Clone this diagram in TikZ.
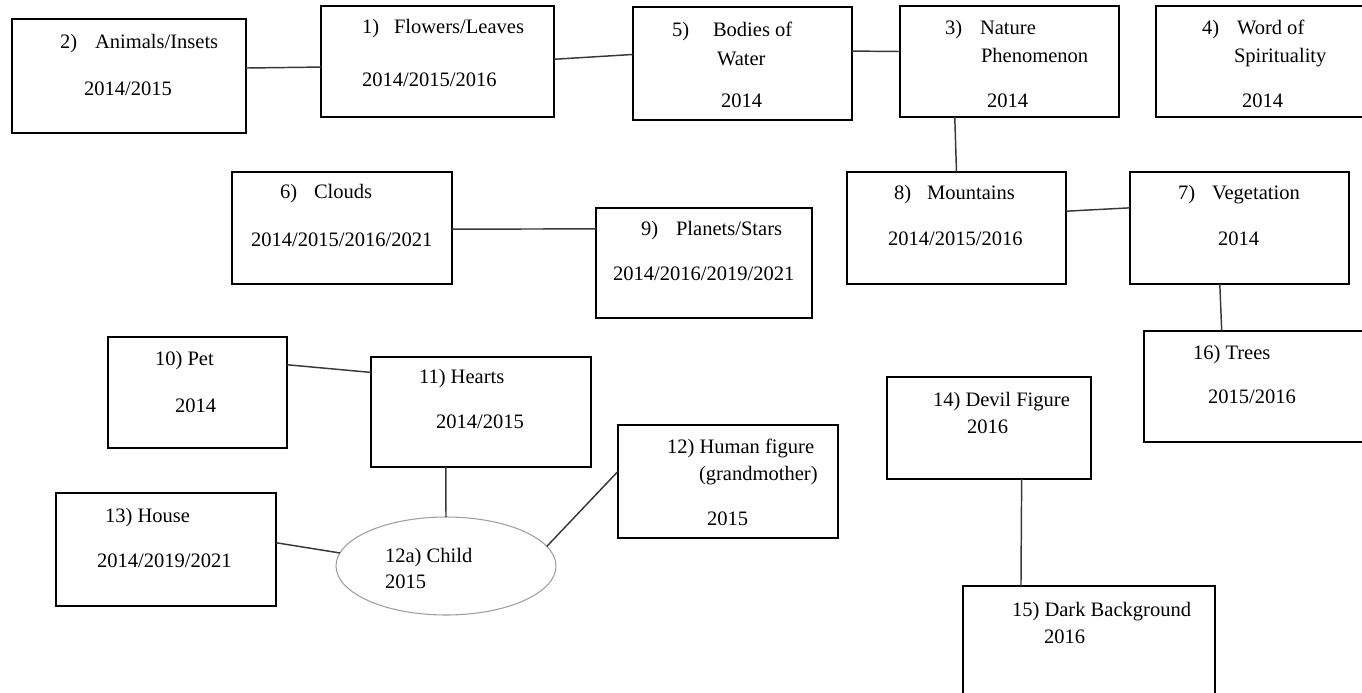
\documentclass[tikz,border=0pt]{standalone}
\usepackage{fontspec}
\setmainfont{Liberation Serif}
\usetikzlibrary{calc,shapes.geometric}
\begin{document}
\begin{tikzpicture}[x=0.75pt,y=-0.75pt,
  box/.style={draw=black, line width=1.1pt, rectangle, inner sep=0pt, outer sep=0pt, anchor=north west},
  oval/.style={draw=black!38, line width=0.8pt, ellipse, inner sep=0pt, outer sep=0pt},
  link/.style={draw=black!78, line width=1.1pt},
  txt/.style={anchor=base west, inner sep=0pt, outer sep=0pt, font=\fontsize{15.4}{18}\selectfont, text=black}]
\newcommand\mkbox[5]{\node[box, minimum width={(#4-#2)*0.75pt}, minimum height={(#5-#3)*0.75pt}] (#1) at (#2,#3) {};}
\useasboundingbox (0,0) rectangle (1362,692);

% boxes
\mkbox{b2}{12}{19}{246}{133}
\mkbox{b1}{321}{6}{554}{117}
\mkbox{b5}{633}{7}{852}{120}
\mkbox{b3}{900}{6}{1119}{117}
\mkbox{b4}{1156}{6}{1366}{117}
\mkbox{b6}{232}{172}{452}{284}
\mkbox{b9}{596}{208}{812}{318}
\mkbox{b8}{847}{172}{1066}{284}
\mkbox{b7}{1130}{172}{1349}{284}
\mkbox{b16}{1144}{331}{1366}{442}
\mkbox{b10}{108}{337}{287}{448}
\mkbox{b11}{371}{357}{591}{467}
\mkbox{b12}{618}{425}{838}{538}
\mkbox{b13}{56}{493}{276}{606}
\mkbox{b14}{887}{377}{1091}{479}
\mkbox{b15}{963}{586}{1215}{700}
\node[oval, minimum width={220*0.75pt}, minimum height={98*0.75pt}] (ch) at (446,566) {};

% labels
\node[txt] (l2n) at (60,49) {2)};
\node[txt] (l2a) at (95,49) {Animals/Insets};
\node[txt] (l2b) at (84,95) {2014/2015};

\node[txt] (l1n) at (362,34) {1)};
\node[txt] (l1a) at (394,34) {Flowers/Leaves};
\node[txt] (l1b) at (362,86) {2014/2015/2016};

\node[txt] (l5n) at (672,37) {5)};
\node[txt] (l5a) at (713,37) {Bodies of};
\node[txt] (l5b) at (717,65) {Water};
\node[txt] (l5c) at (721,108) {2014};

\node[txt] (l3n) at (945,35) {3)};
\node[txt] (l3a) at (980,35) {Nature};
\node[txt] (l3b) at (981,63) {Phenomenon};
\node[txt] (l3c) at (987,107) {2014};

\node[txt] (l4n) at (1202,35) {4)};
\node[txt] (l4a) at (1237,35) {Word of};
\node[txt] (l4b) at (1234,63) {Spirituality};
\node[txt] (l4c) at (1242,107) {2014};

\node[txt] (l6n) at (280,198) {6)};
\node[txt] (l6a) at (314,198) {Clouds};
\node[txt] (l6b) at (251,246) {2014/2015/2016/2021};

\node[txt] (l9n) at (641,235) {9)};
\node[txt] (l9a) at (676,235) {Planets/Stars};
\node[txt] (l9b) at (613,280) {2014/2016/2019/2021};

\node[txt] (l8n) at (894,199) {8)};
\node[txt] (l8a) at (927,199) {Mountains};
\node[txt] (l8b) at (888,245) {2014/2015/2016};

\node[txt] (l7n) at (1178,199) {7)};
\node[txt] (l7a) at (1212,199) {Vegetation};
\node[txt] (l7b) at (1218,245) {2014};

\node[txt] (l16a) at (1193,359) {16) Trees};
\node[txt] (l16b) at (1208,403) {2015/2016};

\node[txt] (l14a) at (933,406) {14) Devil Figure};
\node[txt] (l14b) at (967,433) {2016};

\node[txt] (l15a) at (1012,616) {15) Dark Background};
\node[txt] (l15b) at (1044,643) {2016};

\node[txt] (l10a) at (155,365) {10) Pet};
\node[txt] (l10b) at (175,412) {2014};

\node[txt] (l11a) at (419,383) {11) Hearts};
\node[txt] (l11b) at (436,428) {2014/2015};

\node[txt] (l13a) at (105,522) {13) House};
\node[txt] (l13b) at (97,567) {2014/2019/2021};

\node[txt] (lca) at (385,562) {12a) Child};
\node[txt] (lcb) at (385,588) {2015};

\node[txt] (l12a) at (667,453) {12) Human figure};
\node[txt] (l12b) at (699,480) {(grandmother)};
\node[txt] (l12c) at (707,525) {2015};

% connectors
\draw[link] ($(b2.north east)!.43!(b2.south east)$) -- ($(b1.north west)!.55!(b1.south west)$);
\draw[link] ($(b1.north east)!.48!(b1.south east)$) -- ($(b5.north west)!.42!(b5.south west)$);
\draw[link] ($(b5.north east)!.39!(b5.south east)$) -- ($(b3.north west)!.41!(b3.south west)$);
\draw[link] ($(b3.south west)!.25!(b3.south east)$) -- (b8.north);
\draw[link] ($(b8.north east)!.35!(b8.south east)$) -- ($(b7.north west)!.32!(b7.south west)$);
\draw[link] ($(b7.south west)!.41!(b7.south east)$) -- ($(b16.north west)!.35!(b16.north east)$);
\draw[link] ($(b6.north east)!.51!(b6.south east)$) -- ($(b9.north west)!.19!(b9.south west)$);
\draw[link] ($(b10.north east)!.25!(b10.south east)$) -- ($(b11.north west)!.14!(b11.south west)$);
\draw[link] ($(b11.south west)!.34!(b11.south east)$) -- (ch.north);
\draw[link] ($(b13.north east)!.44!(b13.south east)$) -- (ch.173);
\draw[link] (ch.11) -- ($(b12.north west)!.41!(b12.south west)$);
\draw[link] ($(b14.south west)!.66!(b14.south east)$) -- ($(b15.north west)!.23!(b15.north east)$);
\end{tikzpicture}
\end{document}
